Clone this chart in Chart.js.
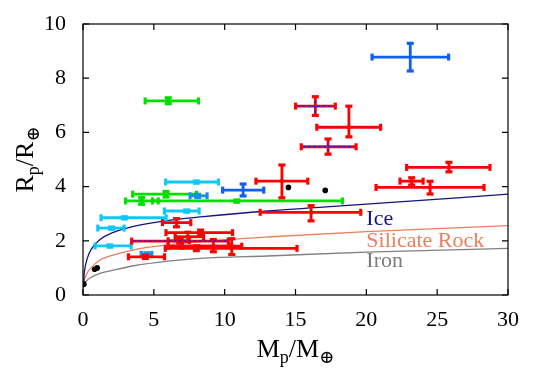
<!DOCTYPE html>
<html><head><meta charset="utf-8">
<script src="https://cdn.jsdelivr.net/npm/chart.js@4"></script>
<style>html,body{margin:0;padding:0;background:#fff}</style>
</head><body>
<canvas id="c" width="540" height="379"></canvas>
<script>
// ---- data: each row = [M, M_low, M_high, R, R_low, R_high]
const bluePlanets = [
  [23.1, 20.4, 25.8, 8.78, 8.27, 9.29],
  [11.3, 9.85, 12.75, 3.87, 3.66, 4.10]
];
const midBluePlanets = [
  [8.1, 7.55, 8.75, 3.66, 3.60, 3.72],
  [4.5, 4.1, 4.85, 1.50, 1.44, 1.56]
];
const cyanPlanets = [
  [8.0, 5.83, 9.55, 4.17, 4.13, 4.21],
  [7.32, 5.74, 8.19, 3.10, 3.06, 3.14],
  [2.92, 1.27, 5.86, 2.85, 2.81, 2.89],
  [2.02, 1.04, 2.90, 2.47, 2.43, 2.51],
  [1.9, 0.85, 3.39, 1.81, 1.77, 1.85]
];
const greenPlanets = [
  [6.02, 4.38, 8.14, 7.16, 7.06, 7.28],
  [5.86, 3.5, 8.0, 3.72, 3.62, 3.82],
  [4.14, 3.0, 5.3, 3.47, 3.35, 3.60],
  [10.85, 4.9, 18.3, 3.47, 3.43, 3.51]
];
const redPlanets = [
  [18.77, 16.5, 21.0, 6.19, 5.84, 6.97],
  [14.04, 12.2, 15.86, 4.20, 3.59, 4.80],
  [25.83, 22.84, 28.72, 4.71, 4.55, 4.90],
  [23.2, 22.37, 24.0, 4.20, 4.06, 4.33],
  [24.5, 20.68, 28.3, 3.97, 3.73, 4.20],
  [16.1, 12.5, 19.6, 3.05, 2.74, 3.30],
  [6.6, 5.6, 7.6, 2.67, 2.52, 2.82],
  [8.3, 5.85, 10.55, 2.30, 2.20, 2.40],
  [7.4, 6.5, 8.5, 2.15, 1.98, 2.32],
  [6.85, 6.0, 7.5, 2.00, 1.92, 2.08],
  [10.5, 6.0, 11.2, 1.80, 1.50, 2.08],
  [9.2, 7.0, 10.3, 1.80, 1.60, 2.05],
  [8.0, 5.8, 15.1, 1.72, 1.64, 1.82],
  [4.4, 3.2, 5.75, 1.41, 1.35, 1.47]
];
const dashedPlanets = [
  [16.4, 15.0, 17.8, 6.97, 6.63, 7.32],
  [17.3, 15.4, 19.27, 5.47, 5.20, 5.76],
  [6.85, 3.43, 10.25, 1.99, 1.93, 2.05]
];
const solarM = [0.06, 0.82, 1.0, 14.5, 17.1];
const solarR = [0.40, 0.95, 1.0, 3.97, 3.86];

// composition curves
const curveMass = [0.02, 0.1, 0.3, 0.6, 1.2, 2, 3.5, 6, 8.3, 13, 20, 30];
const iceR  = [0.35, 0.85, 1.35, 1.70, 2.05, 2.28, 2.52, 2.75, 2.88, 3.10, 3.35, 3.72];
const rockR = [0.30, 0.55, 0.82, 1.02, 1.29, 1.45, 1.66, 1.85, 1.97, 2.14, 2.34, 2.56];
const ironR = [0.25, 0.40, 0.55, 0.66, 0.80, 0.90, 1.07, 1.25, 1.35, 1.44, 1.58, 1.72];

const xTicks = [0, 5, 10, 15, 20, 25, 30];
const yTicks = [0, 2, 4, 6, 8, 10];

const SERIF = "'Liberation Serif','DejaVu Serif',serif";

function pts(rows){ return rows.map(r => ({x: r[0], y: r[3]})); }
function curve(rs){ return curveMass.map((m,i) => ({x: m, y: rs[i]})); }

function errSet(rows, color, extra){
  return Object.assign({
    data: pts(rows), err: rows, barColor: color,
    backgroundColor: color, borderColor: color,
    pointStyle: 'rect', pointRadius: 3, borderWidth: 0
  }, extra || {});
}

const errorBarPlugin = {
  id: 'errbars',
  beforeDatasetDraw(chart, args) {
    const ds = chart.data.datasets[args.index];
    if (!ds.err) return;
    const ctx = chart.ctx, xs = chart.scales.x, ys = chart.scales.y;
    const line = (a,b,c,d) => { ctx.beginPath(); ctx.moveTo(a,b); ctx.lineTo(c,d); ctx.stroke(); };
    ctx.save();
    ds.err.forEach(row => {
      const x = xs.getPixelForValue(row[0]), y = ys.getPixelForValue(row[3]);
      const x1 = xs.getPixelForValue(row[1]), x2 = xs.getPixelForValue(row[2]);
      const y1 = ys.getPixelForValue(row[4]), y2 = ys.getPixelForValue(row[5]);
      ctx.setLineDash([]);
      ctx.strokeStyle = ds.barColor; ctx.fillStyle = ds.barColor; ctx.lineWidth = 2.8;
      line(x1, y, x2, y); line(x, y1, x, y2);
      ctx.fillRect(x1 - 1.5, y - 3.5, 3.2, 7);
      ctx.fillRect(x2 - 1.5, y - 3.5, 3.2, 7);
      ctx.fillRect(x - 3.5, y1 - 1.5, 7, 3.2);
      ctx.fillRect(x - 3.5, y2 - 1.5, 7, 3.2);
      if (ds.dashColor) {
        ctx.strokeStyle = ds.dashColor; ctx.lineWidth = 1.6; ctx.setLineDash([2.5, 2.5]);
        line(x1 + 2, y, x2 - 2, y); line(x, y1 - 2, x, y2 + 2);
      }
    });
    ctx.restore();
  }
};

const framePlugin = {
  id: 'frame',
  afterDatasetsDraw(chart) {
    const {ctx, chartArea: a} = chart;
    const xs = chart.scales.x, ys = chart.scales.y;
    ctx.save();
    ctx.strokeStyle = '#000'; ctx.lineWidth = 1.2;
    ctx.strokeRect(a.left, a.top, a.right - a.left, a.bottom - a.top);
    ctx.beginPath();
    xTicks.forEach(v => { const p = xs.getPixelForValue(v);
      ctx.moveTo(p, a.bottom); ctx.lineTo(p, a.bottom - 6);
      ctx.moveTo(p, a.top); ctx.lineTo(p, a.top + 6); });
    yTicks.forEach(v => { const p = ys.getPixelForValue(v);
      ctx.moveTo(a.left, p); ctx.lineTo(a.left + 6, p);
      ctx.moveTo(a.right, p); ctx.lineTo(a.right - 6, p); });
    ctx.stroke();

    // curve labels
    const labels = [
      {t: 'Ice', c: '#14147e', r: 2.58},
      {t: 'Silicate Rock', c: '#e8805e', r: 1.78},
      {t: 'Iron', c: '#7c7c7c', r: 1.02}
    ];
    ctx.font = '22px ' + SERIF; ctx.textBaseline = 'alphabetic'; ctx.textAlign = 'left';
    labels.forEach(l => { ctx.fillStyle = l.c;
      ctx.fillText(l.t, xs.getPixelForValue(20), ys.getPixelForValue(l.r)); });

    // axis titles with subscripts
    const rich = (parts, cx, cy) => {
      let w = 0;
      parts.forEach(p => { ctx.font = p.s + 'px ' + SERIF; p.w = ctx.measureText(p.t).width; w += p.w; });
      let x = cx - w / 2;
      parts.forEach(p => { ctx.font = p.s + 'px ' + SERIF; ctx.fillText(p.t, x, cy + p.dy); x += p.w; });
    };
    ctx.fillStyle = '#000';
    rich([{t:'M',s:26,dy:0},{t:'p',s:18,dy:6},{t:'/M',s:26,dy:0},{t:'⊕',s:18,dy:6}], (a.left + a.right) / 2, 357);
    ctx.save();
    ctx.translate(33, (a.top + a.bottom) / 2);
    ctx.rotate(-Math.PI / 2);
    rich([{t:'R',s:26,dy:0},{t:'p',s:18,dy:6},{t:'/R',s:26,dy:0},{t:'⊕',s:18,dy:6}], 0, 0);
    ctx.restore();
    ctx.restore();
  }
};

const lineSet = (rs, color) => ({
  data: curve(rs), showLine: true, pointRadius: 0, borderColor: color,
  borderWidth: 1.3, cubicInterpolationMode: 'monotone', fill: false
});

new Chart(document.getElementById('c'), {
  type: 'scatter',
  data: { datasets: [
    { data: solarM.map((m,i) => ({x: m, y: solarR[i]})), backgroundColor: '#000', borderWidth: 0, pointRadius: 2.8 },
    errSet(dashedPlanets, '#ff0000', {dashColor: '#2020ff', pointRadius: 0}),
    errSet(redPlanets, '#ff0000', {pointRadius: 2.5}),
    errSet(midBluePlanets, '#1a8fe8'),
    errSet(bluePlanets, '#1060f0', {pointRadius: 0}),
    errSet(greenPlanets, '#00e000'),
    errSet(cyanPlanets, '#10c8f8'),
    lineSet(iceR, '#14147e'),
    lineSet(rockR, '#e8805e'),
    lineSet(ironR, '#808080')
  ]},
  options: {
    responsive: false, animation: false,
    layout: { padding: { left: 0, top: 24, right: 32, bottom: 0 } },
    plugins: { legend: { display: false }, tooltip: { enabled: false } },
    scales: {
      x: { type: 'linear', min: 0, max: 30, grid: { display: false }, border: { display: false },
           afterFit: s => { s.height = 84; },
           afterBuildTicks: s => { s.ticks = xTicks.map(v => ({value: v})); },
           ticks: { padding: 4, color: '#000', font: { family: SERIF, size: 22 } } },
      y: { type: 'linear', min: 0, max: 10, grid: { display: false }, border: { display: false },
           afterFit: s => { s.width = 83; },
           afterBuildTicks: s => { s.ticks = yTicks.map(v => ({value: v})); },
           ticks: { padding: 9, color: '#000', font: { family: SERIF, size: 22 } } }
    }
  },
  plugins: [errorBarPlugin, framePlugin]
});
</script>
</body></html>
